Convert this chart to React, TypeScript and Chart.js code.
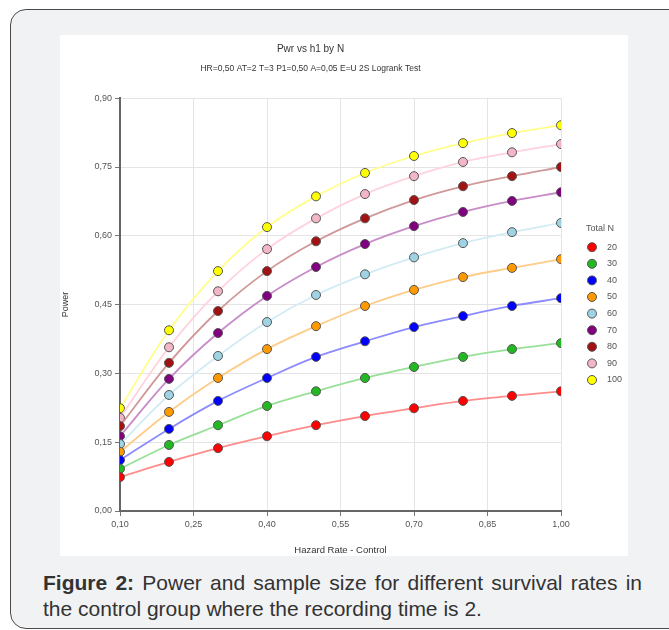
import React, { useEffect, useRef } from "react";
import { Chart, registerables } from "chart.js";

Chart.register(...registerables);

// ---- data ----
const hazardRates = [0.1, 0.2, 0.3, 0.4, 0.5, 0.6, 0.7, 0.8, 0.9, 1.0];
const totalNLabels = ["20", "30", "40", "50", "60", "70", "80", "90", "100"];
const power20 = [0.074, 0.107, 0.137, 0.163, 0.187, 0.207, 0.224, 0.24, 0.251, 0.261];
const power30 = [0.092, 0.144, 0.187, 0.229, 0.261, 0.29, 0.314, 0.336, 0.353, 0.366];
const power40 = [0.111, 0.179, 0.24, 0.29, 0.336, 0.37, 0.401, 0.425, 0.447, 0.464];
const power50 = [0.129, 0.216, 0.29, 0.353, 0.403, 0.447, 0.482, 0.51, 0.53, 0.549];
const power60 = [0.146, 0.253, 0.338, 0.412, 0.471, 0.516, 0.553, 0.584, 0.608, 0.628];
const power70 = [0.163, 0.288, 0.388, 0.469, 0.532, 0.582, 0.621, 0.652, 0.676, 0.695];
const power80 = [0.185, 0.323, 0.436, 0.523, 0.588, 0.638, 0.678, 0.708, 0.73, 0.75];
const power90 = [0.203, 0.357, 0.479, 0.571, 0.638, 0.691, 0.73, 0.761, 0.782, 0.8];
const power100 = [0.224, 0.394, 0.523, 0.619, 0.686, 0.737, 0.774, 0.802, 0.824, 0.841];
const powerSeries = [power20, power30, power40, power50, power60, power70, power80, power90, power100];
const xTickValues = [0.1, 0.25, 0.4, 0.55, 0.7, 0.85, 1.0];
const yTickValues = [0, 0.15, 0.3, 0.45, 0.6, 0.75, 0.9];

// ---- styles ----
const markerColors = ["#ff0000", "#22b822", "#0000ff", "#ff9900", "#9fd3e3", "#800080", "#a31212", "#f3b6c6", "#ffff00"];
const lineColors = ["#ff8c8c", "#98e098", "#8c8cff", "#ffcc88", "#d2ecf4", "#c88cc8", "#d09898", "#ffd2de", "#ffff8c"];
const FONT = "'Liberation Sans', Arial, sans-serif";
const fmt = (v: number) => v.toFixed(2).replace(".", ",");

const sideLegend = {
  id: "sideLegend",
  afterDraw(chart: any) {
    const { ctx, chartArea } = chart;
    ctx.save();
    ctx.font = `9px ${FONT}`;
    ctx.fillStyle = "#555";
    ctx.textBaseline = "middle";
    ctx.textAlign = "left";
    ctx.fillText("Total N", chartArea.right + 25, chartArea.top + 130);
    chart.data.datasets.forEach((ds: any, i: number) => {
      const y = chartArea.top + 149 + i * 16.6;
      ctx.beginPath();
      ctx.arc(chartArea.right + 31, y, 4.5, 0, Math.PI * 2);
      ctx.fillStyle = ds.pointBackgroundColor;
      ctx.fill();
      ctx.lineWidth = 1;
      ctx.strokeStyle = "#555";
      ctx.stroke();
      ctx.fillStyle = "#555";
      ctx.fillText(ds.label, chartArea.right + 46, y);
    });
    ctx.restore();
  },
};

function PowerChart() {
  const ref = useRef<HTMLCanvasElement>(null);
  useEffect(() => {
    if (!ref.current) return;
    const chart = new Chart(ref.current, {
      type: "line",
      data: {
        datasets: powerSeries.map((vals, i) => ({
          label: totalNLabels[i],
          data: vals.map((y, j) => ({ x: hazardRates[j], y })),
          borderColor: lineColors[i],
          borderWidth: 1.8,
          pointBackgroundColor: markerColors[i],
          pointBorderColor: "#555",
          pointBorderWidth: 1,
          pointRadius: 4.5,
          tension: 0.35,
          fill: false,
        })),
      },
      plugins: [sideLegend],
      options: {
        responsive: false,
        animation: false,
        layout: { padding: { top: 0, right: 67, left: 0, bottom: 0 } },
        plugins: {
          legend: { display: false },
          tooltip: { enabled: false },
          title: {
            display: true,
            text: "Pwr vs h1 by N",
            color: "#333",
            font: { family: FONT, size: 10, weight: "normal" },
            padding: { top: 8, bottom: 7 },
          },
          subtitle: {
            display: true,
            text: "HR=0,50 AT=2 T=3 P1=0,50 A=0,05 E=U 2S Logrank Test",
            color: "#333",
            font: { family: FONT, size: 8.5 },
            padding: { top: 2, bottom: 24 },
          },
        },
        scales: {
          x: {
            type: "linear",
            min: 0.1,
            max: 1.0,
            afterBuildTicks: (s: any) => {
              s.ticks = xTickValues.map((v) => ({ value: v }));
            },
            afterFit: (s: any) => {
              s.height = 45;
            },
            ticks: {
              callback: (v: any) => fmt(Number(v)),
              color: "#555",
              font: { family: FONT, size: 9 },
              padding: 3,
              maxRotation: 0,
              autoSkip: false,
            },
            grid: { color: "#e4e4e4", tickColor: "#777", tickLength: 5 },
            border: { color: "#666", width: 2 },
            title: {
              display: true,
              text: "Hazard Rate - Control",
              color: "#333",
              font: { family: FONT, size: 9.5 },
              padding: { top: 4, bottom: 0 },
            },
          },
          y: {
            type: "linear",
            min: 0,
            max: 0.9,
            afterBuildTicks: (s: any) => {
              s.ticks = yTickValues.map((v) => ({ value: v }));
            },
            afterFit: (s: any) => {
              s.width = 60;
            },
            ticks: {
              callback: (v: any) => fmt(Number(v)),
              color: "#555",
              font: { family: FONT, size: 9 },
              padding: 3,
              autoSkip: false,
            },
            grid: { color: "#e4e4e4", tickColor: "#777", tickLength: 5 },
            border: { color: "#666", width: 2 },
            title: {
              display: true,
              text: "Power",
              color: "#333",
              font: { family: FONT, size: 9 },
              padding: { top: 0, bottom: 9 },
            },
          },
        },
      },
    });
    return () => chart.destroy();
  }, []);
  return <canvas ref={ref} width={568} height={521} style={{ display: "block", background: "#fff" }} />;
}

export default function App() {
  return (
    <div style={{ position: "absolute", left: 0, top: 0, width: 669, height: 630, overflow: "hidden", background: "#fff" }}>
      <div
        style={{
          position: "absolute",
          left: 10,
          top: 9,
          width: 680,
          height: 618,
          border: "1.5px solid #4a4a4a",
          borderRadius: 16,
          background: "#f1f2f4",
        }}
      />
      <div style={{ position: "absolute", left: 60, top: 35 }}>
        <PowerChart />
      </div>
      <div
        style={{
          position: "absolute",
          left: 43,
          top: 570,
          width: 599,
          fontFamily: FONT,
          fontSize: 21,
          lineHeight: "26px",
          color: "#333",
          textAlign: "justify",
        }}
      >
        <b>Figure 2:</b> Power and sample size for different survival rates in the control group where the recording time is 2.
      </div>
    </div>
  );
}
